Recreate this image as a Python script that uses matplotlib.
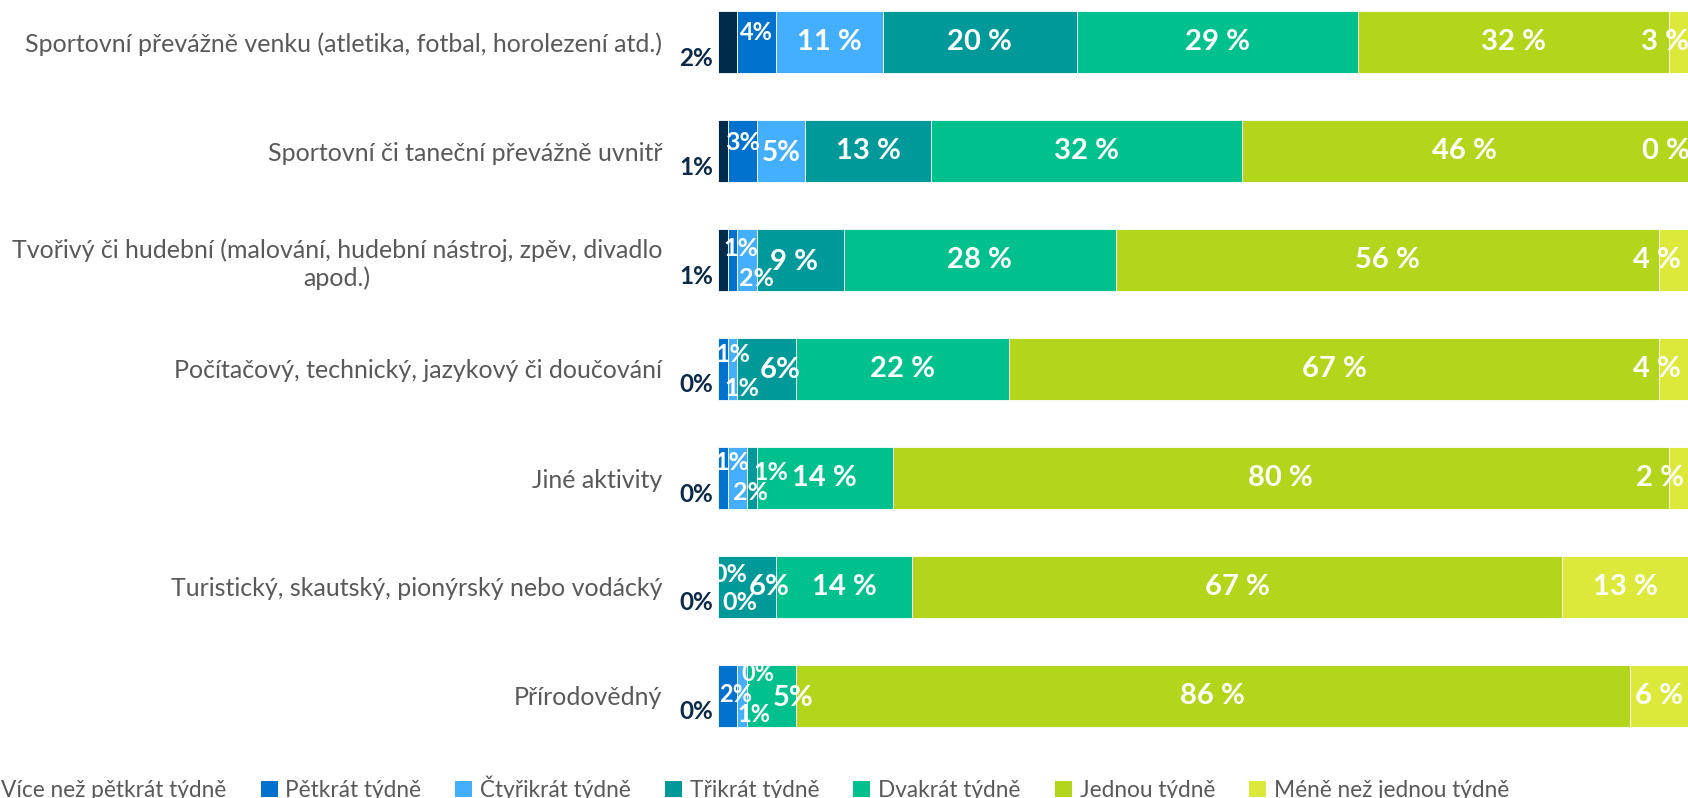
import matplotlib
matplotlib.use("Agg")
import matplotlib.pyplot as plt
from matplotlib.patches import Patch
import numpy as np

plt.rcParams['font.family'] = ['Lato', 'DejaVu Sans']

categories = [
    "Sportovní převážně venku (atletika, fotbal, horolezení atd.)",
    "Sportovní či taneční převážně uvnitř",
    "Tvořivý či hudební (malování, hudební nástroj, zpěv, divadlo\napod.)",
    "Počítačový, technický, jazykový či doučování",
    "Jiné aktivity",
    "Turistický, skautský, pionýrský nebo vodácký",
    "Přírodovědný",
]

series_names = [
    "Více než pětkrát týdně",
    "Pětkrát týdně",
    "Čtyřikrát týdně",
    "Třikrát týdně",
    "Dvakrát týdně",
    "Jednou týdně",
    "Méně než jednou týdně",
]

more_than_five = [2, 1, 1, 0, 0, 0, 0]
five_times = [4, 3, 1, 1, 1, 0, 2]
four_times = [11, 5, 2, 1, 2, 0, 1]
three_times = [20, 13, 9, 6, 1, 6, 0]
twice = [29, 32, 28, 22, 14, 14, 5]
once = [32, 46, 56, 67, 80, 67, 86]
less_than_once = [3, 0, 4, 4, 2, 13, 6]

series_values = [more_than_five, five_times, four_times, three_times,
                 twice, once, less_than_once]

colors = ["#002B4A", "#0072CE", "#45AFFF", "#00999A",
          "#00C08E", "#B3D51B", "#DCE83A"]
navy = "#0B2A4A"

# label placement tweaks for crowded segments: (row, series) -> (dx %, dy px, size)
label_tweaks = {
    (0, 1): (0.0, -10, 17),
    (1, 1): (0.0, -9, 18),
    (1, 2): (0.0, 2, 20),
    (2, 1): (0.9, -12, 18),
    (2, 2): (1.0, 18, 18),
    (2, 3): (-0.7, 2, 21),
    (3, 1): (1.0, -15, 18),
    (3, 2): (1.0, 20, 18),
    (3, 3): (1.4, 1, 21),
    (4, 1): (0.9, -15, 18),
    (4, 2): (1.3, 15, 18),
    (4, 3): (2.0, -6, 18),
    (5, 1): (1.2, -12, 18),
    (5, 2): (2.3, 16, 18),
    (5, 3): (2.3, 0, 21),
    (6, 1): (0.8, -1, 17),
    (6, 2): (1.2, 19, 17),
    (6, 3): (1.1, -22, 17),
    (6, 4): (2.2, 2, 21),
    (0, 6): (-1.9, 0, 21),
    (1, 6): (-2.3, 0, 21),
    (2, 6): (-2.2, 0, 21),
    (3, 6): (-2.2, 0, 21),
    (4, 6): (-1.9, 0, 21),
}

W, H = 1688, 798
fig = plt.figure(figsize=(W / 100, H / 100), dpi=100)

row_px = 109.0
first_center = 42.0
n = len(categories)
ax_left = 718 / W
ax_top_px = first_center - row_px / 2
ax_h_px = row_px * n
ax = fig.add_axes([ax_left, 1 - (ax_top_px + ax_h_px) / H, 1 - ax_left, ax_h_px / H])
ax.set_xlim(0, 100)
ax.set_ylim(n - 0.5, -0.5)

y = np.arange(n)
left = np.zeros(n)
bar_h = 0.56
for s, (name, vals, col) in enumerate(zip(series_names, series_values, colors)):
    vals = np.array(vals, dtype=float)
    ax.barh(y, vals, left=left, height=bar_h, color=col, edgecolor="white",
            linewidth=0.6, label=name)
    for i in range(n):
        v = vals[i]
        if s == 0:
            ax.text(-0.5, i + 16 / row_px, f"{int(v)}%", ha="right", va="center",
                    fontsize=17.5, fontweight="bold", color=navy, clip_on=False)
            continue
        dx, dy, size = label_tweaks.get((i, s), (0.0, 0, 21))
        sep = " " if (v >= 9 or s == len(series_names) - 1) else ""
        ax.text(left[i] + v / 2 + dx, i + dy / row_px, f"{int(v)}{sep}%",
                ha="center", va="center", fontsize=size, fontweight="bold",
                color="white", clip_on=False)
    left += vals

ax.set_yticks(y)
ax.set_yticklabels(categories, fontsize=18, color="#595959")
for lbl in ax.get_yticklabels():
    lbl.set_multialignment("center")
ax.tick_params(axis="y", length=0, pad=40)
ax.set_xticks([])
for sp in ax.spines.values():
    sp.set_visible(False)

handles = [Patch(facecolor=c, edgecolor="none") for c in colors]
fig.legend(handles, series_names, loc="center", ncol=7, frameon=False,
           bbox_to_anchor=(0.44, 0.0125), fontsize=16.3, labelcolor="#595959",
           handlelength=0.75, handleheight=0.75, handletextpad=0.35,
           columnspacing=1.5)

fig.savefig("out.png", dpi=100)
